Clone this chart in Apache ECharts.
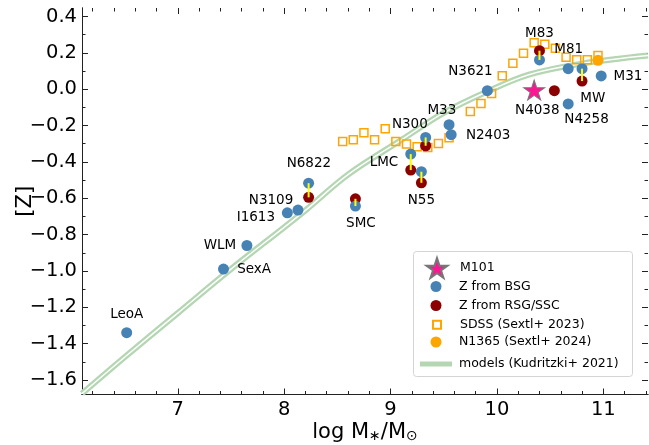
<!DOCTYPE html>
<html><head><meta charset="utf-8">
<script src="https://cdn.jsdelivr.net/npm/echarts@6/dist/echarts.min.js"></script>
<style>html,body{margin:0;padding:0;background:#fff}#c{width:649px;height:445px}</style>
</head><body><div id="c"></div>
<script>
// ---------------- data ----------------
const bsgNames = ['LeoA','SexA','WLM','I1613','N3109','N6822','SMC','LMC','N55','N300','M33','N2403','N3621','M83','M81','MW','M31','N4258'];
const bsgLogM  = [6.52, 7.43, 7.65, 8.03, 8.13, 8.23, 8.67, 9.19, 9.29, 9.33, 9.55, 9.57, 9.91, 10.40, 10.67, 10.80, 10.98, 10.67];
const bsgZ     = [-1.34, -0.99, -0.86, -0.68, -0.665, -0.517, -0.643, -0.357, -0.454, -0.265, -0.195, -0.25, -0.008, 0.161, 0.113, 0.113, 0.073, -0.081];

const rsgNames = ['N6822','SMC','LMC','N55','N300','M83','MW','N4038'];
const rsgLogM  = [8.23, 8.67, 9.19, 9.29, 9.33, 10.40, 10.80, 10.54];
const rsgZ     = [-0.595, -0.603, -0.445, -0.515, -0.311, 0.212, 0.045, -0.008];

const sdssLogM = [8.55, 8.65, 8.75, 8.85, 8.95, 9.05, 9.15, 9.25, 9.35, 9.45, 9.55, 9.75, 9.85, 9.95, 10.05, 10.15, 10.25, 10.35, 10.45, 10.55, 10.65, 10.75, 10.85, 10.95];
const sdssZ    = [-0.287, -0.278, -0.239, -0.278, -0.217, -0.287, -0.302, -0.316, -0.321, -0.299, -0.267, -0.123, -0.078, -0.024, 0.074, 0.143, 0.198, 0.256, 0.247, 0.225, 0.176, 0.162, 0.162, 0.185];

const m101LogM = [10.35], m101Z = [-0.010];
const n1365LogM = [10.95], n1365Z = [0.159];

const modelLogM = [6.1, 6.5, 7.0, 7.5, 8.0, 8.2, 8.6, 9.1, 9.5, 9.9, 10.3, 10.8, 11.42];
const modelZ    = [-1.675, -1.475, -1.232, -0.99, -0.76, -0.667, -0.47, -0.28, -0.13, -0.015, 0.08, 0.141, 0.185];

const xTicks = [7, 8, 9, 10, 11];
const yTicks = [-1.6, -1.4, -1.2, -1.0, -0.8, -0.6, -0.4, -0.2, 0.0, 0.2, 0.4];
const xMinor = [6.2,6.4,6.6,6.8,7.2,7.4,7.6,7.8,8.2,8.4,8.6,8.8,9.2,9.4,9.6,9.8,10.2,10.4,10.6,10.8,11.2,11.4];
const yMinor = [-1.5,-1.3,-1.1,-0.9,-0.7,-0.5,-0.3,-0.1,0.1,0.3];

// ---------------- styles ----------------
const labelPos = {
  LeoA:  {align:'center', off:[0,-18.7]},
  SexA:  {align:'left',   off:[13.7,0]},
  WLM:   {align:'right',  off:[-10.7,0]},
  I1613: {align:'right',  off:[-12.3,4.4]},
  N3109: {align:'right',  off:[-4.7,-10]},
  N6822: {align:'center', off:[0.3,-19.2]},
  SMC:   {align:'center', off:[5.5,17.3]},
  LMC:   {align:'right',  off:[-12.5,8.3]},
  N55:   {align:'center', off:[0,28.3]},
  N300:  {align:'center', off:[-15.8,-13]},
  M33:   {align:'center', off:[-7.2,-13.7]},
  N2403: {align:'left',   off:[14.7,0.6]},
  N3621: {align:'center', off:[-16.9,-19]},
  M83:   {align:'center', off:[0,-26]},
  M81:   {align:'center', off:[0.5,-18.7]},
  MW:    {align:'center', off:[10.8,30.3]},
  M31:   {align:'left',   off:[12.3,0.7]},
  N4258: {align:'center', off:[18.3,16]},
  N4038: {align:'center', off:[-17.1,20]}
};
const FONT = 'DejaVu Sans';
const C_BLUE = '#4682b4', C_RED = '#8b0000', C_ORANGE = '#ffa500', C_GREEN = '#b4d6b2';
const STAR = 'path://M0,-1 L0.2245,-0.309 L0.951,-0.309 L0.363,0.118 L0.588,0.809 L0,0.382 L-0.588,0.809 L-0.363,0.118 L-0.951,-0.309 L-0.2245,-0.309 Z';
const SQUARE = 'path://M0,0 L10,0 L10,10 L0,10 Z';

function labelled(names, xs, ys) {
  return names.map((n, i) => {
    const item = {name: n, value: [xs[i], ys[i]]};
    const p = labelPos[n];
    if (p) item.label = {show: true, position: 'inside', formatter: n, align: p.align, verticalAlign: 'middle',
      offset: p.off, color: '#000', textBorderWidth: 0, fontSize: 13.5, fontFamily: FONT};
    return item;
  });
}
const zip = (a, b) => a.map((v, i) => [v, b[i]]);

// yellow connectors between BSG and RSG values of same galaxy
const pairs = [];
rsgNames.forEach((n, i) => {
  const j = bsgNames.indexOf(n);
  if (j >= 0) pairs.push([rsgLogM[i], bsgZ[j], rsgZ[i]]);
});

const grid = {left: 82, top: 8, width: 566, height: 386.5, outerBoundsMode: 'none', containLabel: false};
const fmtY = v => (v < -1e-9 ? '\u2212' : '') + Math.abs(v).toFixed(1);
const axLine = {show: true, onZero: false, lineStyle: {color: '#222', width: 1}};
const noLine = {show: false, onZero: false};
const TICKFS = 19.5;
function xAx(pos, ticks, len, labels) {
  return {type: 'value', min: 6.1, max: 11.42, position: pos, splitLine: {show: false},
    axisLine: labels !== null ? axLine : noLine,
    axisTick: {show: true, inside: true, length: len, customValues: ticks, lineStyle: {color: '#222'}},
    axisLabel: labels ? {show: true, customValues: labels, color: '#000', fontSize: TICKFS, fontFamily: FONT, margin: 5} : {show: false}};
}
function yAx(pos, ticks, len, labels) {
  return {type: 'value', min: -1.68, max: 0.447, position: pos, splitLine: {show: false},
    axisLine: labels !== null ? axLine : noLine,
    axisTick: {show: true, inside: true, length: len, customValues: ticks, lineStyle: {color: '#222'}},
    axisLabel: labels ? {show: true, customValues: labels, formatter: fmtY, color: '#000', fontSize: TICKFS, fontFamily: FONT, margin: 5} : {show: false}};
}
const xa0 = xAx('bottom', xTicks, 6, xTicks);
xa0.name = '{n|log M}{s|\u2217}{n|/M}{s|\u2299}';
xa0.nameLocation = 'middle'; xa0.nameGap = 26; xa0.nameMoveOverlap = false;
xa0.nameTextStyle = {rich: {n: {fontSize: 21, fontFamily: FONT, color: '#000', verticalAlign: 'bottom', lineHeight: 23},
                            s: {fontSize: 14, fontFamily: FONT, color: '#000', verticalAlign: 'bottom', lineHeight: 17}}};
const ya0 = yAx('left', yTicks, 6, yTicks);
ya0.name = '[Z]'; ya0.nameLocation = 'middle'; ya0.nameGap = 46; ya0.nameMoveOverlap = false;
ya0.nameTextStyle = {fontSize: 21, fontFamily: FONT, color: '#000'};

// legend: icon centred at x=436, text starting at x=459
const legendBase = (name, top, w, h, icon) => ({
  data: [icon ? {name, icon} : name], left: 436 - w / 2, top: top, orient: 'vertical', itemWidth: w, itemHeight: h,
  padding: 0, selectedMode: false,
  textStyle: {fontSize: 12.5, fontFamily: FONT, color: '#000', padding: [0, 0, 0, 18 - w / 2]}
});

const option = {
  animation: false,
  backgroundColor: '#fff',
  grid,
  xAxis: [xa0, xAx('bottom', xMinor, 3.5, false), xAx('top', xTicks, 6, null), xAx('top', xMinor, 3.5, null)],
  yAxis: [ya0, yAx('left', yMinor, 3.5, false), yAx('right', yTicks, 6, null), yAx('right', yMinor, 3.5, null)],
  graphic: [{type: 'rect', left: 413, top: 251, shape: {width: 219, height: 125, r: 3}, z: 50,
    style: {fill: 'rgba(255,255,255,0.8)', stroke: '#d4d4d4', lineWidth: 1}}],
  legend: [
    legendBase('M101', 257, 21, 20, STAR),
    legendBase('Z from BSG', 280, 11, 11, 'circle'),
    legendBase('Z from RSG/SSC', 299, 11, 11, 'circle'),
    legendBase('SDSS (Sextl+ 2023)', 318.3, 8, 8, SQUARE),
    legendBase('N1365 (Sextl+ 2024)', 335.5, 11, 11, 'circle'),
    legendBase('models (Kudritzki+ 2021)', 357.5, 32, 5, 'rect')
  ].map(l => Object.assign(l, {z: 60})),
  series: [
    {name: 'models (Kudritzki+ 2021)', type: 'line', data: zip(modelLogM, modelZ), smooth: 0.35, symbol: 'none',
      color: C_GREEN, lineStyle: {color: C_GREEN, width: 6}, z: 1},
    {name: 'models-inner', type: 'line', data: zip(modelLogM, modelZ), smooth: 0.35, symbol: 'none',
      lineStyle: {color: '#fff', width: 1.5}, z: 1},
    {name: 'SDSS (Sextl+ 2023)', type: 'scatter', data: zip(sdssLogM, sdssZ), symbol: SQUARE, symbolSize: 8,
      color: C_ORANGE, itemStyle: {color: 'rgba(255,255,255,0)', borderColor: C_ORANGE, borderWidth: 1.5, opacity: 1}, z: 2},
    {name: 'Z from RSG/SSC', type: 'scatter', data: labelled(rsgNames, rsgLogM, rsgZ).map((d, i) => rsgNames[i] === 'N4038' ? d : {name: d.name, value: d.value}),
      symbolSize: 11, itemStyle: {color: C_RED, opacity: 1}, z: 3},
    {name: 'Z from BSG', type: 'scatter', data: labelled(bsgNames, bsgLogM, bsgZ), symbolSize: 11,
      itemStyle: {color: C_BLUE, opacity: 1}, z: 4},
    {name: 'connectors', type: 'custom', z: 5, data: pairs,
      renderItem: (params, api) => {
        const a = api.coord([api.value(0), api.value(1)]);
        const b = api.coord([api.value(0), api.value(2)]);
        return {type: 'line', shape: {x1: a[0], y1: a[1], x2: b[0], y2: b[1]}, style: {stroke: '#ffff00', lineWidth: 2}};
      }},
    {name: 'M101', type: 'scatter', data: zip(m101LogM, m101Z), symbol: STAR, symbolSize: [21, 20], symbolOffset: [0, -1],
      itemStyle: {color: '#ff1493', borderColor: '#777', borderWidth: 1, opacity: 1}, z: 6},
    {name: 'N1365 (Sextl+ 2024)', type: 'scatter', data: zip(n1365LogM, n1365Z), symbolSize: 11,
      itemStyle: {color: C_ORANGE, opacity: 1}, z: 6}
  ]
};
const chart = echarts.init(document.getElementById('c'), null, {renderer: 'canvas'});
chart.setOption(option);
</script></body></html>
